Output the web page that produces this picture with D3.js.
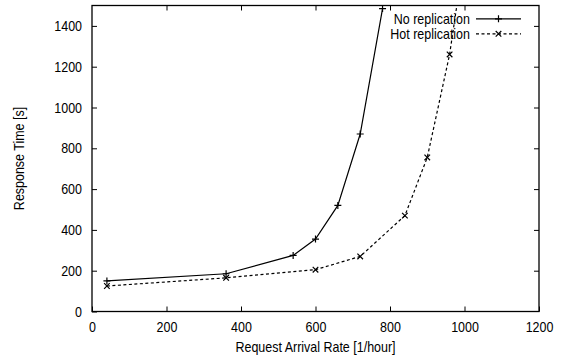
<!DOCTYPE html>
<html>
<head>
<meta charset="utf-8">
<script src="https://cdn.jsdelivr.net/npm/d3@7"></script>
<style>
  html, body { margin: 0; padding: 0; background: #fff; }
  svg { display: block; }
  svg text { font-family: "Liberation Sans", Arial, sans-serif; fill: #000; }
</style>
</head>
<body>
<svg id="chart" width="563" height="358"></svg>
<script>
// Request arrival rates [1/hour] and measured response times [s]
const noReplX = [40, 360, 540, 600, 660, 720, 780];
const noReplY = [150, 185, 275, 355, 520, 870, 1485];
const hotReplX = [40, 360, 600, 720, 840, 900, 960, 1020];
const hotReplY = [125, 165, 205, 270, 470, 755, 1260, 2000];

const xTicks = [0, 200, 400, 600, 800, 1000, 1200];
const yTicks = [0, 200, 400, 600, 800, 1000, 1200, 1400];

const seriesNames = ["No replication", "Hot replication"];

const svg = d3.select("#chart");
const plotLeft = 92, plotRight = 539, plotTop = 5.5, plotBottom = 311.5;
const x = d3.scaleLinear().domain([0, 1200]).range([plotLeft, plotRight]);
const y = d3.scaleLinear().domain([0, 1500]).range([plotBottom, plotTop]);

const fontSize = 14.5;
const narrow = 0.86;   // condensed look for all labels
const tickLen = 5;

// clip region for the plot area
svg.append("defs").append("clipPath").attr("id", "plot-clip")
  .append("rect")
  .attr("x", x(0)).attr("y", y(1500))
  .attr("width", x(1200) - x(0)).attr("height", y(0) - y(1500));

// axes with inward ticks on all four sides
const axisBottom = d3.axisBottom(x).tickValues(xTicks).tickSize(-tickLen).tickPadding(10.5).tickFormat(d3.format("d"));
const axisTop = d3.axisTop(x).tickValues(xTicks.slice(1, -1)).tickSize(-tickLen).tickFormat("");
const axisLeft = d3.axisLeft(y).tickValues(yTicks).tickSize(-tickLen).tickPadding(10).tickFormat(d3.format("d"));
const axisRight = d3.axisRight(y).tickValues(yTicks.slice(1)).tickSize(-tickLen).tickFormat("");

function style(g) {
  g.attr("font-family", null).attr("font-size", null);
  g.select(".domain").remove();
  g.selectAll(".tick line").attr("stroke", "#000").attr("stroke-width", 1);
  g.selectAll(".tick text").attr("fill", "#000").attr("font-size", fontSize);
}

svg.append("g").attr("transform", `translate(0,${y(0)})`).call(axisBottom).call(style);
svg.append("g").attr("transform", `translate(0,${y(1500)})`).call(axisTop).call(style);
svg.append("g").attr("transform", `translate(${x(0)},0)`).call(axisLeft).call(style);
svg.append("g").attr("transform", `translate(${x(1200)},0)`).call(axisRight).call(style);

// frame
svg.append("rect")
  .attr("x", x(0)).attr("y", y(1500))
  .attr("width", x(1200) - x(0)).attr("height", y(0) - y(1500))
  .attr("fill", "none").attr("stroke", "#000").attr("stroke-width", 1.3);

// axis titles
svg.append("text")
  .attr("x", (x(0) + x(1200)) / 2).attr("y", 352)
  .attr("text-anchor", "middle").attr("font-size", fontSize)
  .text("Request Arrival Rate [1/hour]");
svg.append("text")
  .attr("transform", `translate(23.5,${(y(0) + y(1500)) / 2}) rotate(-90)`)
  .attr("text-anchor", "middle").attr("font-size", fontSize)
  .text("Response Time [s]");

const line = d3.line().x(d => x(d[0])).y(d => y(d[1]));
const noRepl = noReplX.map((v, i) => [v, noReplY[i]]);
const hotRepl = hotReplX.map((v, i) => [v, hotReplY[i]]);

const plot = svg.append("g").attr("clip-path", "url(#plot-clip)");

function plusPath(cx, cy, r) {
  return `M${cx - r},${cy}H${cx + r}M${cx},${cy - r}V${cy + r}`;
}
function crossPath(cx, cy, r) {
  return `M${cx - r},${cy - r}L${cx + r},${cy + r}M${cx - r},${cy + r}L${cx + r},${cy - r}`;
}

plot.append("path").datum(noRepl).attr("d", line)
  .attr("fill", "none").attr("stroke", "#000").attr("stroke-width", 1.2);
plot.append("path").datum(hotRepl).attr("d", line)
  .attr("fill", "none").attr("stroke", "#000").attr("stroke-width", 1.2)
  .attr("stroke-dasharray", "3,2.5");

plot.selectAll(".pt-no").data(noRepl).join("path")
  .attr("d", d => plusPath(x(d[0]), y(d[1]), 3.5))
  .attr("stroke", "#000").attr("stroke-width", 1.2);
plot.selectAll(".pt-hot").data(hotRepl).join("path")
  .attr("d", d => crossPath(x(d[0]), y(d[1]), 2.8))
  .attr("stroke", "#000").attr("stroke-width", 1.2);

// legend
const legend = svg.append("g");
const legY = [18.8, 33.8];
const textRight = 470, sampleL = 476, sampleR = 521;
seriesNames.forEach((name, i) => {
  legend.append("text")
    .attr("x", textRight).attr("y", legY[i] + 5.1)
    .attr("text-anchor", "end").attr("font-size", fontSize)
    .text(name);
  legend.append("line")
    .attr("x1", sampleL).attr("x2", sampleR)
    .attr("y1", legY[i]).attr("y2", legY[i])
    .attr("stroke", "#000").attr("stroke-width", 1.2)
    .attr("stroke-dasharray", i === 1 ? "3,2.5" : null);
  const cx = (sampleL + sampleR) / 2;
  legend.append("path")
    .attr("d", i === 0 ? plusPath(cx, legY[i], 3.5) : crossPath(cx, legY[i], 2.8))
    .attr("stroke", "#000").attr("stroke-width", 1.2);
});

// condense every label horizontally
svg.selectAll("text").each(function () {
  const w = this.getComputedTextLength();
  if (w > 0) {
    d3.select(this).attr("textLength", w * narrow).attr("lengthAdjust", "spacingAndGlyphs");
  }
});
</script>
</body>
</html>
